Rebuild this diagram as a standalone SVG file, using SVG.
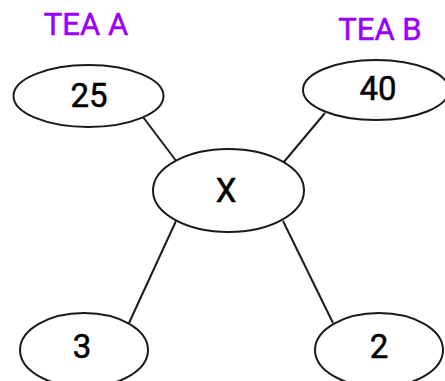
<svg xmlns="http://www.w3.org/2000/svg" width="445" height="381" viewBox="0 0 445 381">
<style>
.n{fill:#fff;stroke:#1a1a1a;stroke-width:2}
.t{font-family:Roboto,"Liberation Sans",sans-serif;font-size:33px;fill:#000;stroke:#000;stroke-width:0.5;text-anchor:middle}
.lab{font-family:Roboto,"Liberation Sans",sans-serif;font-size:31px;fill:#9900ff;stroke:#9900ff;stroke-width:0.5;text-anchor:middle}
.e{stroke:#1a1a1a;stroke-width:2;fill:none}
</style>
<rect width="445" height="381" fill="#fff"/>
<g id="labels">
<text class="lab" x="86" y="35">TEA A</text>
<text class="lab" x="380" y="40">TEA B</text>
</g>
<g id="connectors">
<line class="e" x1="143" y1="117" x2="177" y2="162"/>
<line class="e" x1="325" y1="113" x2="283" y2="163"/>
<line class="e" x1="176" y1="221" x2="129" y2="323"/>
<line class="e" x1="283" y1="221" x2="333" y2="323"/>
</g>
<g id="n25"><ellipse class="n" cx="88.5" cy="96" rx="75" ry="31"/><text class="t" x="89" y="107">25</text></g>
<g id="n40"><ellipse class="n" cx="376" cy="90" rx="73" ry="30"/><text class="t" x="378" y="100">40</text></g>
<g id="nX"><ellipse class="n" cx="228.5" cy="190.5" rx="75.5" ry="41.5"/><text class="t" x="226" y="202">X</text></g>
<g id="n3"><ellipse class="n" cx="84" cy="350" rx="64" ry="37"/><text class="t" x="82" y="358">3</text></g>
<g id="n2"><ellipse class="n" cx="379" cy="350" rx="64" ry="37"/><text class="t" x="379" y="358">2</text></g>
</svg>
